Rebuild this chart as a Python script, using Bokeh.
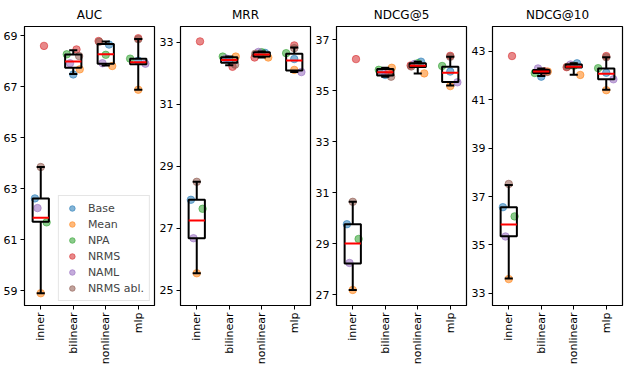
import math
from bokeh.plotting import figure
from bokeh.layouts import row
from bokeh.models import Range1d, FixedTicker
from bokeh.embed import file_html
from bokeh.resources import INLINE

CATEGORIES = ["inner", "bilinear", "nonlinear", "mlp"]
MODELS = ["Base", "Mean", "NPA", "NRMS", "NAML", "NRMS abl."]
COLORS = ["#1f77b4", "#ff7f0e", "#2ca02c", "#d62728", "#9467bd", "#8c564b"]

# ---- AUC ----
AUC = {
    "Base":      [62.62, 67.48, 68.65, 68.02],
    "Mean":      [58.90, 67.68, 67.81, 66.88],
    "NPA":       [61.68, 68.27, 68.25, 68.10],
    "NRMS":      [68.60, 68.46, 68.79, 68.90],
    "NAML":      [62.24, 67.92, 67.92, 67.90],
    "NRMS abl.": [63.85, 68.20, 68.76, 68.86],
}
AUC_LO   = [58.90, 67.50, 67.83, 66.88]
AUC_Q1   = [61.70, 67.74, 67.90, 67.88]
AUC_MEAN = [61.86, 67.99, 68.27, 67.96]
AUC_Q3   = [62.62, 68.26, 68.67, 68.10]
AUC_HI   = [63.85, 68.43, 68.77, 68.87]

# ---- MRR ----
MRR = {
    "Base":      [27.91, 32.42, 32.65, 32.45],
    "Mean":      [25.54, 32.53, 32.50, 32.10],
    "NPA":       [27.62, 32.53, 32.67, 32.64],
    "NRMS":      [33.02, 32.20, 32.50, 32.89],
    "NAML":      [26.67, 32.47, 32.68, 32.03],
    "NRMS abl.": [28.49, 32.27, 32.62, 32.80],
}
MRR_LO   = [25.54, 32.25, 32.50, 32.03]
MRR_Q1   = [26.67, 32.33, 32.53, 32.08]
MRR_MEAN = [27.24, 32.42, 32.60, 32.40]
MRR_Q3   = [27.91, 32.51, 32.67, 32.62]
MRR_HI   = [28.49, 32.53, 32.69, 32.82]

# ---- NDCG@5 ----
NDCG5 = {
    "Base":      [29.76, 35.62, 36.14, 35.75],
    "Mean":      [27.18, 35.90, 35.68, 35.18],
    "NPA":       [29.18, 35.82, 36.08, 35.97],
    "NRMS":      [36.24, 35.70, 35.99, 36.37],
    "NAML":      [28.24, 35.72, 36.05, 35.33],
    "NRMS abl.": [30.64, 35.55, 35.95, 36.33],
}
NDCG5_LO   = [27.18, 35.55, 35.68, 35.20]
NDCG5_Q1   = [28.22, 35.60, 35.93, 35.34]
NDCG5_MEAN = [29.00, 35.72, 35.98, 35.70]
NDCG5_Q3   = [29.76, 35.85, 36.08, 35.94]
NDCG5_HI   = [30.64, 35.90, 36.14, 36.33]

# ---- NDCG@10 ----
NDCG10 = {
    "Base":      [36.56, 41.95, 42.50, 42.11],
    "Mean":      [33.59, 42.16, 42.02, 41.39],
    "NPA":       [36.18, 42.10, 42.40, 42.30],
    "NRMS":      [42.80, 42.17, 42.34, 42.80],
    "NAML":      [35.35, 42.29, 42.45, 41.84],
    "NRMS abl.": [37.52, 42.14, 42.36, 42.75],
}
NDCG10_LO   = [33.62, 41.98, 42.03, 41.41]
NDCG10_Q1   = [35.36, 42.10, 42.33, 41.84]
NDCG10_MEAN = [35.84, 42.16, 42.36, 42.07]
NDCG10_Q3   = [36.56, 42.22, 42.45, 42.29]
NDCG10_HI   = [37.48, 42.29, 42.50, 42.75]

# horizontal jitter of each model's point inside each category (layout)
JITTER = [
    [-0.18, 0.00, 0.18, 0.10, -0.10, 0.00],
    [0.00, 0.20, -0.20, 0.10, -0.10, 0.18],
    [0.10, 0.20, 0.00, -0.22, -0.10, -0.20],
    [0.00, 0.00, -0.25, 0.00, 0.22, 0.00],
]

PANELS = [
    ("AUC", AUC, (AUC_LO, AUC_Q1, AUC_MEAN, AUC_Q3, AUC_HI), (58.42, 69.36), [59, 61, 63, 65, 67, 69]),
    ("MRR", MRR, (MRR_LO, MRR_Q1, MRR_MEAN, MRR_Q3, MRR_HI), (24.5, 33.5), [25, 27, 29, 31, 33]),
    ("NDCG@5", NDCG5, (NDCG5_LO, NDCG5_Q1, NDCG5_MEAN, NDCG5_Q3, NDCG5_HI), (26.57, 37.52), [27, 29, 31, 33, 35, 37]),
    ("NDCG@10", NDCG10, (NDCG10_LO, NDCG10_Q1, NDCG10_MEAN, NDCG10_Q3, NDCG10_HI), (32.5, 44.02), [33, 35, 37, 39, 41, 43]),
]

FONT = "DejaVu Sans"
BOX_W = 0.5
CAP_W = 0.25

figs = []
for pi_, (title, vals, box, yr, ticks) in enumerate(PANELS):
    p = figure(width=156, height=367, x_range=Range1d(-0.5, 3.5), y_range=Range1d(*yr),
               output_backend="svg", toolbar_location=None, title=title,
               min_border_left=22, min_border_right=2, min_border_top=0, min_border_bottom=0)
    p.title.align = "center"
    p.title.text_font = FONT
    p.title.text_font_size = "12px"
    p.title.text_font_style = "normal"
    p.title.text_color = "black"
    p.title.offset = 0

    idx = list(range(len(CATEGORIES)))
    # points
    for m, model in enumerate(MODELS):
        xs = [c + JITTER[c][m] for c in idx]
        kw = {}
        if pi_ == 0:
            kw["legend_label"] = model
        p.scatter(xs, vals[model], size=7.5, marker="circle", fill_color=COLORS[m],
                  line_color=COLORS[m], fill_alpha=0.55, line_alpha=0.55, **kw)

    lo, q1, mean, q3, hi = box
    # whiskers
    p.segment(x0=idx, y0=q3, x1=idx, y1=hi, line_color="black", line_width=2)
    p.segment(x0=idx, y0=q1, x1=idx, y1=lo, line_color="black", line_width=2)
    # caps
    p.segment(x0=[c - CAP_W / 2 for c in idx], y0=hi, x1=[c + CAP_W / 2 for c in idx], y1=hi,
              line_color="black", line_width=2)
    p.segment(x0=[c - CAP_W / 2 for c in idx], y0=lo, x1=[c + CAP_W / 2 for c in idx], y1=lo,
              line_color="black", line_width=2)
    # box
    p.vbar(x=idx, width=BOX_W, bottom=q1, top=q3, fill_alpha=0, line_color="black", line_width=2)
    # mean line
    p.segment(x0=[c - BOX_W / 2 for c in idx], y0=mean, x1=[c + BOX_W / 2 for c in idx], y1=mean,
              line_color="red", line_width=2)

    p.grid.visible = False
    p.outline_line_color = "black"
    p.outline_line_width = 1.2

    p.xaxis.ticker = FixedTicker(ticks=idx)
    p.xaxis.major_label_overrides = {c: CATEGORIES[c] for c in idx}
    p.xaxis.major_label_orientation = math.pi / 2
    p.yaxis.ticker = FixedTicker(ticks=ticks)
    for ax in (p.xaxis[0], p.yaxis[0]):
        ax.major_tick_in = 0
        ax.major_tick_out = 4
        ax.minor_tick_line_color = None
        ax.major_label_text_font = FONT
        ax.major_label_text_font_size = "11px"
        ax.major_label_text_color = "black"
        ax.axis_line_color = "black"
        ax.major_tick_line_color = "black"
        ax.major_label_standoff = 3

    if pi_ == 0:
        lg = p.legend[0]
        lg.location = "bottom_right"
        lg.margin = 4
        lg.padding = 5
        lg.spacing = 2
        lg.label_height = 14
        lg.glyph_height = 14
        lg.glyph_width = 16
        lg.label_standoff = 8
        lg.label_text_font = FONT
        lg.label_text_font_size = "11px"
        lg.border_line_color = "#cccccc"
        lg.background_fill_alpha = 0.8
    figs.append(p)

layout = row(*figs, spacing=0)
open("out.html", "w").write(file_html(layout, INLINE))
